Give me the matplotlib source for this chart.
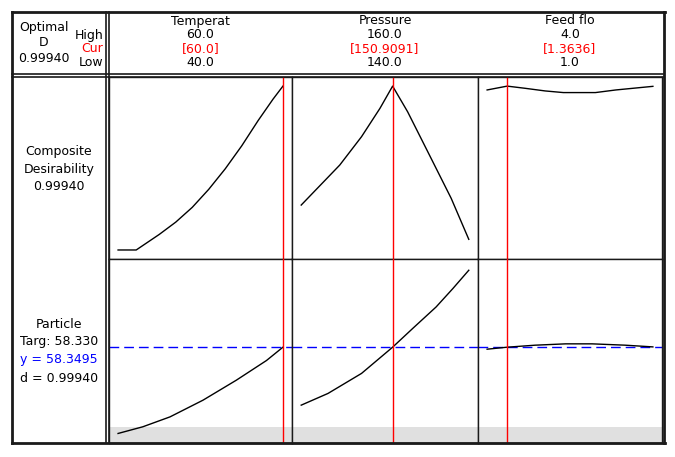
import matplotlib
matplotlib.use("Agg")
import matplotlib.pyplot as plt
from matplotlib.lines import Line2D

# factor settings
factors = ["Temperat", "Pressure", "Feed flo"]
high = [60.0, 160.0, 4.0]
low = [40.0, 140.0, 1.0]
cur = [60.0, 150.9091, 1.3636]
cur_labels = ["[60.0]", "[150.9091]", "[1.3636]"]
high_labels = ["60.0", "160.0", "4.0"]
low_labels = ["40.0", "140.0", "1.0"]

# composite desirability curves
temp_dx = [40, 42.2, 45, 47, 49, 51, 53, 55, 57, 58.8, 60]
temp_d = [0, 0, 0.095, 0.17, 0.26, 0.37, 0.495, 0.635, 0.79, 0.92, 0.9994]
pres_dx = [140, 144.6, 147.2, 149.4, 150.9091, 152.7, 155.5, 157.9, 160]
pres_d = [0.274, 0.518, 0.691, 0.864, 0.9994, 0.843, 0.559, 0.315, 0.065]
feed_dx = [1.0, 1.3636, 1.69, 2.05, 2.38, 2.96, 3.33, 4.0]
feed_d = [0.976, 0.9994, 0.986, 0.97, 0.96, 0.96, 0.976, 0.998]

# particle response curves
temp_yx = [40, 43, 46.3, 50.3, 54.35, 58, 60]
temp_y = [49.3, 50.0, 51.04, 52.79, 54.89, 56.95, 58.35]
pres_yx = [140, 143.2, 147.2, 150.9091, 153.3, 156.1, 158.1, 160]
pres_y = [52.27, 53.5, 55.6, 58.35, 60.31, 62.57, 64.5, 66.42]
feed_yx = [1.0, 1.3636, 1.87, 2.42, 2.9, 3.5, 4.0]
feed_y = [58.14, 58.35, 58.56, 58.7, 58.7, 58.56, 58.38]

target = 58.330
y_pred = 58.3495
d_val = 0.99940
lower_bound = 50.0

W, H = 675, 457
fig = plt.figure(figsize=(W / 100, H / 100), dpi=100)
fig.patch.set_facecolor("white")
plt.rcParams["font.family"] = ["DejaVu Sans"]
FS = 9.0


def fx(px):
    return px / W


def fy(py):
    return 1 - py / H


def hline(y, x0, x1, lw=1.0, color="#1a1a1a"):
    fig.add_artist(Line2D([fx(x0), fx(x1)], [fy(y), fy(y)], lw=lw, color=color))


def vline(x, y0, y1, lw=1.0, color="#1a1a1a"):
    fig.add_artist(Line2D([fx(x), fx(x)], [fy(y0), fy(y1)], lw=lw, color=color))


def text(px, py, s, color="black", ha="center"):
    fig.text(fx(px), fy(py), s, ha=ha, va="center", fontsize=FS, color=color)


cols = [(109, 292), (292, 478), (478, 662)]
rows = [(77, 259), (259, 443)]
d_curves = [(temp_dx, temp_d), (pres_dx, pres_d), (feed_dx, feed_d)]
y_curves = [(temp_yx, temp_y), (pres_yx, pres_y), (feed_yx, feed_y)]

for j, (x0, x1) in enumerate(cols):
    span = high[j] - low[j]
    xlim = (low[j] - 0.055 * span, high[j] + 0.055 * span)
    for i, (y0, y1) in enumerate(rows):
        ax = fig.add_axes([fx(x0), fy(y1), (x1 - x0) / W, (y1 - y0) / H])
        ax.set_xlim(*xlim)
        ax.set_xticks([])
        ax.set_yticks([])
        for sp in ax.spines.values():
            sp.set_linewidth(1.0)
            sp.set_color("#1a1a1a")
        if i == 0:
            ax.set_ylim(-0.055, 1.055)
            ax.plot(*d_curves[j], color="black", lw=1.0)
        else:
            ax.set_ylim(48.3, 67.6)
            ax.axhspan(48.3, lower_bound, color="#e0e0e0", lw=0, zorder=0)
            ax.axhline(y_pred, color="#0000ff", lw=1.0, ls=(0, (7, 3.6)), zorder=2)
            ax.plot(*y_curves[j], color="black", lw=1.0, zorder=3)
        ax.axvline(cur[j], color="red", lw=1.0, zorder=4)

    cx = (x0 + x1) / 2
    text(cx, 21, factors[j])
    text(cx, 35, high_labels[j])
    text(cx, 48.5, cur_labels[j], color="red")
    text(cx, 62, low_labels[j])

# frame
hline(12, 12, 665, lw=2)
hline(443, 12, 665, lw=2)
vline(12, 12, 443, lw=2)
vline(663.5, 12, 443, lw=2)
vline(106, 12, 443, lw=1.2)
vline(109, 12, 443, lw=1.2)
hline(74, 12, 663, lw=1.2)
hline(77, 12, 663, lw=1.2)

# header left cell
text(44, 27, "Optimal")
text(44, 42.5, "D")
text(44, 58, f"{d_val:.5f}")
text(103, 35, "High", ha="right")
text(103, 48.5, "Cur", color="red", ha="right")
text(103, 62, "Low", ha="right")

# row labels
text(59, 151, "Composite")
text(59, 169, "Desirability")
text(59, 187, f"{d_val:.5f}")

text(59, 324, "Particle")
text(59, 342, f"Targ: {target:.3f}")
text(59, 360, f"y = {y_pred:.4f}", color="#0000ff")
text(59, 378, f"d = {d_val:.5f}")

fig.savefig("out.png", dpi=100, facecolor="white")
